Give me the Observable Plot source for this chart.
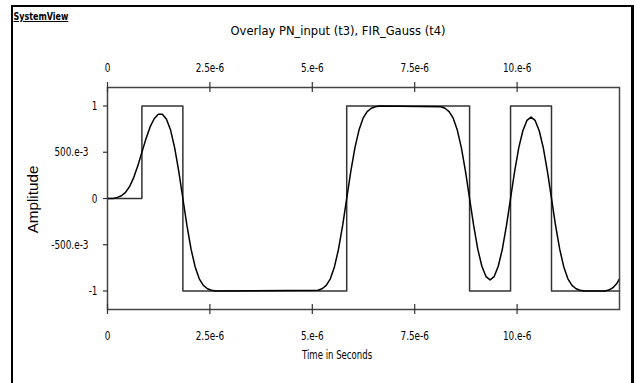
<!DOCTYPE html>
<html><head><meta charset="utf-8">
<script src="https://cdn.jsdelivr.net/npm/d3@7"></script>
<script src="https://cdn.jsdelivr.net/npm/@observablehq/plot@0.6"></script>
<style>
body{margin:0;background:#fff;}
#wrap{position:relative;width:636px;height:383px;overflow:hidden;background:#fff;}
#border{position:absolute;left:11px;top:5px;width:623px;height:400px;border-left:2px solid #000;border-top:2px solid #000;border-right:3px solid #000;box-sizing:border-box;}
.t{position:absolute;font-family:"DejaVu Sans Condensed","DejaVu Sans",sans-serif;color:#000;white-space:nowrap;line-height:1;}
#chart{position:absolute;left:0;top:0;}
</style></head>
<body>
<div id="wrap">
  <div id="border"></div>
  <div id="chart"></div>
  <div class="t" data-w="55" data-cx="41" data-cy="17" style="font-size:10px;font-weight:bold;text-decoration:underline;">SystemView</div>
  <div class="t" data-w="215" data-cx="338" data-cy="30" style="font-size:13px;">Overlay PN_input (t3), FIR_Gauss (t4)</div>
  <div class="t" data-w="70" data-cx="337" data-cy="355" style="font-size:12.5px;">Time in Seconds</div>
  <div class="t" data-w="68" data-cx="32" data-cy="199" data-rot="-90" style="font-size:15px;font-family:'Liberation Sans',Arial,sans-serif;">Amplitude</div>
</div>
<script>
// Tick values (x in microseconds) and their labels
const xTicks = [0, 2.5, 5, 7.5, 10];
const xTickLabels = ["0", "2.5e-6", "5.e-6", "7.5e-6", "10.e-6"];
const yTicks = [1, 0.5, 0, -0.5, -1];
const yTickLabels = ["1", "500.e-3", "0", "-500.e-3", "-1"];

// PN_input (t3): square wave, time in microseconds
const pnTime  = [0, 0.84, 1.84, 5.84, 8.84, 9.84, 10.84, 12.5];
const pnValue = [0, 1, -1, 1, -1, 1, -1, -1];

// FIR_Gauss (t4): filtered output, time in microseconds
const gaussTime = [0, 0.14, 0.24, 0.34, 0.44, 0.54, 0.64, 0.74, 0.84, 0.94, 1.04, 1.14, 1.24, 1.34, 1.44, 1.54, 1.64, 1.74, 1.84, 1.94, 2.04, 2.14, 2.24, 2.34, 2.44, 2.54, 2.64,
  5.14, 5.24, 5.34, 5.44, 5.54, 5.64, 5.74, 5.84, 5.94, 6.04, 6.14, 6.24, 6.34, 6.44, 6.54, 6.64,
  8.14, 8.24, 8.34, 8.44, 8.54, 8.64, 8.74, 8.84, 8.94, 9.04, 9.14, 9.24, 9.34, 9.44, 9.54, 9.64, 9.74, 9.84, 9.94, 10.04, 10.14, 10.24, 10.34, 10.44, 10.54, 10.64, 10.74, 10.84, 10.94, 11.04, 11.14, 11.24, 11.34, 11.44, 11.54, 11.64,
  12.14, 12.24, 12.34, 12.44, 12.5];
const gaussValue = [0, 0, 0.012, 0.03, 0.066, 0.13, 0.226, 0.353, 0.5, 0.647, 0.774, 0.862, 0.91, 0.91, 0.856, 0.74, 0.548, 0.294, 0, -0.294, -0.548, -0.74, -0.868, -0.94, -0.976, -0.992, -1,
  -0.992, -0.976, -0.94, -0.868, -0.74, -0.548, -0.294, 0, 0.294, 0.548, 0.74, 0.868, 0.94, 0.976, 0.992, 1,
  0.992, 0.976, 0.94, 0.868, 0.74, 0.548, 0.294, 0, -0.294, -0.548, -0.732, -0.844, -0.88, -0.844, -0.732, -0.548, -0.294, 0, 0.294, 0.548, 0.732, 0.844, 0.88, 0.844, 0.732, 0.548, 0.294, 0, -0.294, -0.548, -0.74, -0.868, -0.94, -0.976, -0.992, -1,
  -1, -0.99, -0.964, -0.916, -0.868];

const pn = pnTime.map((t, i) => ({t, v: pnValue[i]}));
const gauss = gaussTime.map((t, i) => ({t, v: gaussValue[i]}));

const xLab = d => xTickLabels[xTicks.indexOf(d)];
const yLab = d => yTickLabels[yTicks.indexOf(d)];
const font = "'DejaVu Sans Condensed','DejaVu Sans',sans-serif";

const W = 636, H = 383, ML = 107, MR = 17, MT = 87, MB = 74;
const FW = W - ML - MR, FH = H - MT - MB;

const chart = Plot.plot({
  width: W, height: H,
  marginLeft: ML, marginRight: MR, marginTop: MT, marginBottom: MB,
  x: {domain: [0, 12.5], axis: null},
  y: {domain: [-1.2, 1.2], axis: null},
  style: {fontFamily: font, fontSize: "13px", color: "#000", background: "transparent", overflow: "visible"},
  marks: [
    Plot.line(pn, {x: "t", y: "v", curve: "step-after", stroke: "#333", strokeWidth: 1.5}),
    Plot.line(gauss, {x: "t", y: "v", curve: "linear", stroke: "#000", strokeWidth: 1.5}),
    Plot.frame({stroke: "#444", strokeWidth: 1.5}),
    // tick marks crossing the frame lines
    Plot.ruleX(xTicks, {x: d => d, insetTop: FH - 5, insetBottom: -5, stroke: "#333", strokeWidth: 1.2}),
    Plot.ruleX(xTicks, {x: d => d, insetTop: -5, insetBottom: FH - 5, stroke: "#333", strokeWidth: 1.2}),
    Plot.ruleY(yTicks, {y: d => d, insetLeft: -4, insetRight: FW - 1, stroke: "#333", strokeWidth: 1.2}),
    // tick labels
    Plot.text(xTicks, {x: d => d, text: xLab, frameAnchor: "bottom", lineAnchor: "middle", dy: 26}),
    Plot.text(xTicks, {x: d => d, text: xLab, frameAnchor: "top", lineAnchor: "middle", dy: -20}),
    Plot.text([1, 0, -1], {y: d => d, text: yLab, frameAnchor: "left", textAnchor: "end", dx: -10}),
    Plot.text([0.5, -0.5], {y: d => d, text: yLab, frameAnchor: "left", textAnchor: "end", dx: -19})
  ]
});
document.getElementById("chart").appendChild(chart);

// squash tick labels horizontally (about their anchor) to mimic the narrow screen font
chart.querySelectorAll("text").forEach(t => {
  const tr = t.getAttribute("transform");
  if (tr) {
    t.setAttribute("transform", tr + " scale(0.76,1)");
  } else {
    const x = +(t.getAttribute("x") || 0), y = +(t.getAttribute("y") || 0);
    t.setAttribute("transform", `translate(${x},${y}) scale(0.76,1) translate(${-x},${-y})`);
  }
});

// place and size the html texts
document.querySelectorAll(".t").forEach(el => {
  const w = el.offsetWidth, h = el.offsetHeight;
  const target = +el.dataset.w, cx = +el.dataset.cx, cy = +el.dataset.cy;
  const rot = +(el.dataset.rot || 0);
  el.style.left = (cx - w / 2) + "px";
  el.style.top = (cy - h / 2) + "px";
  el.style.transformOrigin = "50% 50%";
  el.style.transform = (rot ? `rotate(${rot}deg) ` : "") + `scaleX(${target / w})`;
});
</script>
</body></html>
